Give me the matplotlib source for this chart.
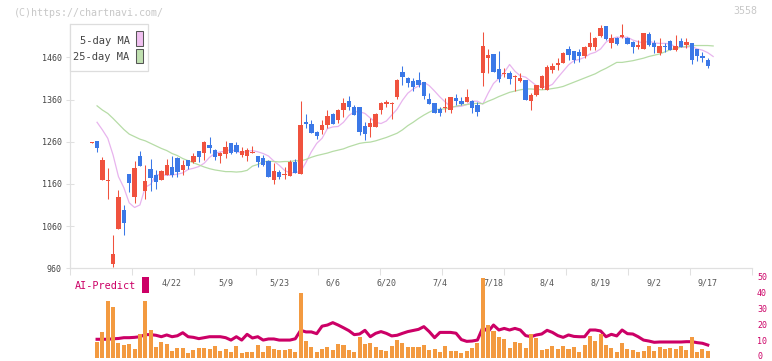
import matplotlib
matplotlib.use('Agg')
import matplotlib.pyplot as plt
from matplotlib.patches import Rectangle
import numpy as np

W, H = 772, 361

# daily candles (4/1 .. 9/17)
opens = [1258, 1262, 1170, 1167, 970, 1052, 1098, 1183, 1129, 1226,
         1142, 1195, 1181, 1169, 1180, 1200, 1221, 1194, 1217, 1211,
         1238, 1232, 1252, 1240, 1227, 1230, 1257, 1252, 1229, 1226,
         1234, 1226, 1222, 1214, 1169, 1188, 1180, 1179, 1212, 1183,
         1307, 1301, 1283, 1288, 1299, 1325, 1311, 1335, 1356, 1342,
         1342, 1297, 1296, 1296, 1335, 1349, 1350, 1367, 1425, 1411,
         1404, 1406, 1401, 1361, 1352, 1337, 1339, 1336, 1364, 1356,
         1355, 1356, 1347, 1422, 1459, 1469, 1432, 1420, 1422, 1413,
         1405, 1406, 1357, 1371, 1387, 1383, 1430, 1443, 1447, 1480,
         1475, 1473, 1462, 1485, 1484, 1511, 1534, 1495, 1505, 1509,
         1507, 1497, 1485, 1480, 1515, 1493, 1470, 1487, 1499, 1477,
         1499, 1489, 1493, 1480, 1464, 1454]
highs = [1259, 1262, 1223, 1197, 1039, 1146, 1110, 1183, 1214, 1238,
         1205, 1219, 1193, 1193, 1218, 1226, 1223, 1217, 1217, 1232,
         1238, 1261, 1271, 1242, 1235, 1261, 1258, 1259, 1247, 1245,
         1250, 1227, 1228, 1217, 1209, 1193, 1199, 1217, 1218, 1356,
         1326, 1311, 1286, 1311, 1335, 1329, 1337, 1364, 1368, 1346,
         1342, 1306, 1315, 1329, 1353, 1360, 1354, 1408, 1439, 1414,
         1410, 1425, 1402, 1375, 1352, 1343, 1364, 1366, 1373, 1367,
         1385, 1360, 1354, 1519, 1480, 1469, 1475, 1434, 1428, 1417,
         1422, 1407, 1375, 1395, 1418, 1442, 1446, 1458, 1472, 1487,
         1476, 1479, 1486, 1521, 1509, 1537, 1535, 1515, 1509, 1539,
         1509, 1498, 1500, 1517, 1520, 1501, 1505, 1493, 1501, 1513,
         1505, 1505, 1494, 1480, 1472, 1458]
lows = [1257, 1236, 1170, 1124, 964, 1052, 1039, 1141, 1115, 1203,
        1123, 1144, 1148, 1169, 1180, 1177, 1177, 1180, 1195, 1209,
        1211, 1217, 1232, 1217, 1210, 1222, 1231, 1232, 1224, 1214,
        1232, 1201, 1203, 1176, 1160, 1171, 1171, 1179, 1185, 1183,
        1293, 1280, 1266, 1278, 1292, 1301, 1305, 1319, 1335, 1324,
        1276, 1264, 1272, 1295, 1326, 1343, 1314, 1362, 1394, 1390,
        1380, 1390, 1362, 1349, 1329, 1322, 1331, 1329, 1346, 1347,
        1355, 1329, 1322, 1392, 1422, 1426, 1402, 1414, 1397, 1379,
        1402, 1358, 1335, 1368, 1386, 1382, 1424, 1430, 1446, 1454,
        1447, 1450, 1458, 1477, 1477, 1509, 1501, 1481, 1490, 1507,
        1491, 1471, 1479, 1479, 1487, 1470, 1466, 1473, 1477, 1476,
        1484, 1483, 1444, 1451, 1450, 1435]
closes = [1258, 1246, 1217, 1168, 994, 1129, 1068, 1161, 1198, 1203,
          1167, 1175, 1165, 1191, 1205, 1181, 1189, 1205, 1203, 1226,
          1224, 1259, 1246, 1224, 1232, 1247, 1232, 1236, 1238, 1240,
          1235, 1213, 1205, 1177, 1190, 1176, 1181, 1212, 1185, 1300,
          1302, 1281, 1274, 1299, 1321, 1303, 1335, 1352, 1342, 1324,
          1284, 1278, 1304, 1326, 1352, 1354, 1351, 1406, 1414, 1399,
          1390, 1394, 1369, 1349, 1329, 1329, 1340, 1366, 1357, 1349,
          1366, 1341, 1331, 1488, 1466, 1426, 1409, 1424, 1409, 1414,
          1410, 1359, 1371, 1394, 1416, 1438, 1439, 1447, 1471, 1466,
          1454, 1463, 1485, 1493, 1507, 1530, 1503, 1505, 1491, 1513,
          1492, 1485, 1489, 1517, 1489, 1485, 1487, 1484, 1477, 1487,
          1485, 1496, 1454, 1462, 1459, 1440]

# moving averages as drawn (one point per day, drawn one slot to the right)
ma5 = [1306, 1288, 1268, 1228, 1177, 1151, 1115, 1104, 1110, 1152,
       1159, 1181, 1182, 1180, 1181, 1183, 1186, 1194, 1197, 1201,
       1209, 1223, 1232, 1236, 1237, 1242, 1236, 1234, 1237, 1239,
       1236, 1232, 1226, 1214, 1204, 1192, 1186, 1187, 1189, 1211,
       1236, 1256, 1268, 1291, 1295, 1296, 1306, 1322, 1331, 1331,
       1327, 1316, 1306, 1303, 1309, 1323, 1337, 1358, 1375, 1385,
       1392, 1401, 1393, 1380, 1366, 1354, 1343, 1343, 1344, 1348,
       1356, 1356, 1349, 1375, 1398, 1410, 1424, 1443, 1427, 1416,
       1413, 1403, 1393, 1390, 1390, 1396, 1412, 1427, 1442, 1452,
       1455, 1460, 1468, 1472, 1480, 1496, 1504, 1508, 1507, 1508,
       1501, 1497, 1494, 1499, 1494, 1493, 1493, 1492, 1484, 1484,
       1484, 1486, 1480, 1477, 1471, 1462]
ma25 = [1345, 1335, 1327, 1315, 1302, 1289, 1278, 1272, 1266, 1262,
        1256, 1250, 1244, 1239, 1232, 1227, 1220, 1215, 1210, 1205,
        1200, 1196, 1193, 1191, 1189, 1189, 1188, 1189, 1192, 1202,
        1206, 1212, 1214, 1213, 1212, 1213, 1213, 1215, 1214, 1218,
        1223, 1227, 1230, 1233, 1237, 1240, 1243, 1248, 1252, 1256,
        1258, 1259, 1262, 1266, 1270, 1275, 1280, 1288, 1298, 1306,
        1315, 1323, 1330, 1336, 1337, 1338, 1341, 1344, 1347, 1348,
        1350, 1351, 1350, 1356, 1361, 1367, 1372, 1377, 1380, 1383,
        1385, 1385, 1384, 1383, 1384, 1386, 1388, 1391, 1396, 1401,
        1406, 1411, 1416, 1421, 1428, 1434, 1441, 1448, 1448, 1450,
        1452, 1455, 1458, 1462, 1465, 1468, 1473, 1478, 1481, 1484,
        1486, 1488, 1488, 1488, 1488, 1487]

# lower panel (from the 2nd day on)
volume = [10.2, 16.2, 35.6, 31.9, 9.4, 8.1, 8.8, 5.6, 15.0, 35.6,
          17.5, 6.9, 10.2, 8.8, 4.4, 6.2, 6.5, 3.1, 5.0, 6.2,
          6.2, 5.6, 7.5, 4.4, 5.6, 3.8, 7.5, 3.1, 3.8, 3.8,
          8.1, 3.8, 7.5, 5.6, 5.0, 5.0, 5.6, 3.8, 40.6, 10.6,
          6.9, 3.8, 5.6, 6.9, 5.0, 8.8, 8.1, 5.0, 3.8, 13.1,
          8.8, 9.4, 6.9, 5.0, 4.4, 7.5, 11.2, 9.4, 6.9, 6.9,
          6.9, 8.1, 5.0, 5.6, 3.8, 7.5, 4.4, 4.4, 3.1, 4.4,
          6.2, 9.4, 50.0, 20.6, 16.9, 13.1, 12.0, 6.4, 10.0, 9.4,
          6.2, 15.0, 12.5, 5.0, 5.6, 7.7, 5.6, 7.5, 5.6, 6.9,
          3.8, 8.1, 13.8, 10.6, 15.0, 8.1, 6.2, 3.8, 9.4, 5.6,
          5.0, 3.8, 4.4, 7.5, 4.4, 6.9, 5.6, 6.2, 5.6, 7.5,
          5.0, 13.1, 3.8, 5.6, 4.4]
ai_predict = [11.7, 11.7, 11.7, 12.0, 12.2, 12.7, 12.7, 12.9, 13.3, 14.6,
              14.6, 14.2, 13.3, 14.4, 13.3, 13.9, 15.8, 13.3, 12.9, 12.1,
              12.7, 13.3, 13.3, 13.3, 12.7, 11.2, 13.3, 11.2, 14.8, 12.5,
              13.3, 11.2, 11.9, 11.9, 11.2, 11.2, 11.2, 12.0, 17.3, 16.3,
              16.3, 15.2, 19.9, 20.6, 22.1, 20.6, 18.9, 17.1, 14.6, 15.0,
              17.3, 13.3, 15.4, 16.5, 15.4, 13.8, 14.2, 15.4, 16.5, 17.2,
              17.9, 19.6, 16.5, 12.7, 16.0, 16.0, 16.0, 15.5, 11.5, 10.4,
              10.6, 11.2, 19.0, 16.5, 20.6, 17.5, 18.5, 17.5, 18.5, 17.5,
              14.0, 13.3, 14.4, 15.0, 17.3, 16.0, 14.0, 12.9, 14.4, 13.5,
              13.3, 13.3, 17.5, 17.5, 16.9, 13.3, 14.8, 13.8, 17.5, 15.2,
              15.0, 13.3, 11.2, 10.6, 9.8, 10.0, 10.0, 10.0, 10.0, 10.0,
              10.2, 10.2, 9.6, 9.2, 8.1]

date_labels = ['4/22', '5/9', '5/23', '6/6', '6/20', '7/4', '7/18',
               '8/4', '8/19', '9/2', '9/17']
date_pos = [15, 25, 35, 45, 55, 65, 75, 85, 95, 105, 115]
price_ticks = [960, 1060, 1160, 1260, 1360, 1460]
ai_ticks = [0, 10, 20, 30, 40, 50]

RED, BLUE = '#f0523e', '#3b78e7'
MAGENTA = '#cc0066'
MONO = 'DejaVu Sans Mono'
GRID = '#e0e0e0'


def fx(x):
    return x / W


def fy(y):
    return 1 - y / H


fig = plt.figure(figsize=(W / 100, H / 100), dpi=100)
fig.patch.set_facecolor('white')
ax = fig.add_axes([fx(70), fy(268.2), 682 / W, 244.6 / H])
ax2 = fig.add_axes([fx(70), fy(358), 682 / W, 80 / H])
xlim = (-4.05, 123.25)

# candles
o = np.array(opens, float)
c = np.array(closes, float)
idx = np.arange(len(c))
cols = [RED if cc >= oo else BLUE for oo, cc in zip(o, c)]
ax.vlines(idx, lows, highs, colors=cols, linewidth=0.75, zorder=3)
body_h = np.maximum(np.abs(c - o), 2.4)
ax.bar(idx, body_h, bottom=np.minimum(o, c), width=0.82, color=cols,
       linewidth=0, zorder=4)

ax.plot(np.arange(len(ma5)) + 1, ma5, color='#e8b4ee', lw=0.9, zorder=2)
ax.plot(np.arange(len(ma25)) + 1, ma25, color='#b6dca6', lw=0.9, zorder=2)

ax.set_xlim(*xlim)
ax.set_ylim(960, 1540)
for s in ['top', 'right']:
    ax.spines[s].set_visible(False)
for s in ['left', 'bottom']:
    ax.spines[s].set_color(GRID)
    ax.spines[s].set_linewidth(0.9)
ax.set_yticks(price_ticks)
ax.set_yticklabels([str(t) for t in price_ticks], fontsize=6, color='#444',
                   family=MONO)
ax.tick_params(axis='y', direction='inout', length=6, width=0.75, color=GRID,
               pad=3)
ax.set_xticks(np.linspace(xlim[0], xlim[1], 12))
ax.set_xticklabels([])
ax.tick_params(axis='x', direction='out', length=5, width=0.75, color=GRID)
for p, s in zip(date_pos, date_labels):
    ax.text(p, -0.0585, s, transform=ax.get_xaxis_transform(), ha='center',
            va='center', fontsize=6, color='#555', family=MONO, clip_on=False)

# lower panel
pos = np.arange(len(volume)) + 1
ax2.plot(pos, ai_predict, color=MAGENTA, lw=2.2, zorder=1,
         solid_joinstyle='round')
ax2.bar(pos, volume, width=0.75, color='#f39a40', linewidth=0, zorder=2)
ax2.set_xlim(*xlim)
ax2.set_ylim(0, 50)
for s in ax2.spines.values():
    s.set_visible(False)
ax2.set_xticks([])
ax2.set_yticks([])
ax2.patch.set_alpha(0)

# right-hand scale of the lower panel
for t in ai_ticks:
    y_px = 358 - t * 1.6
    fig.text(fx(757), fy(min(y_px + 2.4, 359.0)), str(t), ha='left',
             va='baseline', fontsize=6, color=MAGENTA, family=MONO)

# legend box
fig.add_artist(Rectangle((fx(70), fy(71)), 78 / W, 47 / H,
                         transform=fig.transFigure, facecolor='white',
                         edgecolor='#dddddd', lw=0.9, zorder=5))
fig.text(fx(129.5), fy(40.5), '5-day MA', ha='right', va='center',
         fontsize=7.5, color='#444', family=MONO, zorder=6)
fig.text(fx(129.5), fy(57.5), '25-day MA', ha='right', va='center',
         fontsize=7.5, color='#444', family=MONO, zorder=6)
fig.add_artist(Rectangle((fx(136.3), fy(46.3)), 6.4 / W, 15 / H,
                         transform=fig.transFigure, facecolor='#f0c0f0',
                         edgecolor='#555', lw=0.75, zorder=6))
fig.add_artist(Rectangle((fx(136.3), fy(63.3)), 6.4 / W, 14.6 / H,
                         transform=fig.transFigure, facecolor='#c0e0b0',
                         edgecolor='#555', lw=0.75, zorder=6))

fig.text(fx(14), fy(12.8), '(C)https://chartnavi.com/', ha='left',
         va='center', fontsize=7.2, color='#c8c8c8', family=MONO)
fig.text(fx(757), fy(11.5), '3558', ha='right', va='center', fontsize=7.2,
         color='#c8c8c8', family=MONO)

fig.text(fx(75), fy(286), 'AI-Predict', ha='left', va='center',
         fontsize=7.3, color=MAGENTA, family=MONO)
fig.add_artist(Rectangle((fx(142), fy(293)), 7 / W, 16 / H,
                         transform=fig.transFigure, facecolor=MAGENTA,
                         edgecolor='none'))

fig.savefig('out.png', dpi=100)
